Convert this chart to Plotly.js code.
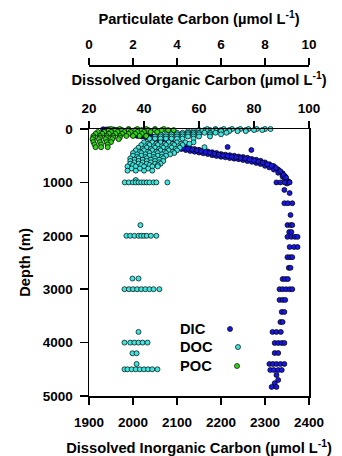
<!DOCTYPE html>
<html>
<head>
<meta charset="utf-8">
<script src="https://cdn.plot.ly/plotly-3.0.1.min.js"></script>
<style>html,body{margin:0;padding:0;background:#fff;}#chart{width:342px;height:456px;}</style>
</head>
<body>
<div id="chart"></div>
<script>
// ---------------- DATA ----------------
// DIC (umol/L) vs depth (m)
const DIC_SURFACE_VALUE = [1932,1938,1944,1950,1956,1962,1967,1940,1972];
const DIC_SURFACE_DEPTH = [5,10,5,15,10,20,25,30,35];

const DIC_BAND_VALUE   = [2000,2010,2020,2030,2040,2050,2060,2070,2080,2090,2100,2110,2120,2130,2140,2150,2160,2170,2180,2190,2200,2210,2220,2230,2240,2250,2260,2270,2280,2290,2300,2310,2320,2330,2340,2345,2350];
const DIC_BAND_DEPTH_A = [85,95,105,120,130,145,170,200,230,260,315,330,345,360,375,390,405,420,435,450,470,480,490,500,515,525,540,560,575,595,625,660,695,760,830,880,960];
const DIC_BAND_DEPTH_B = [120,130,140,155,170,185,210,240,270,300,355,375,395,410,425,440,455,470,490,505,520,530,545,555,565,580,600,615,635,655,690,720,760,820,890,940,1020];
const DIC_BAND_MID_VALUE = [2005,2015,2025,2035,2045,2055,2065,2075,2085,2095,2105,2115,2125,2135,2145,2155,2165,2175,2185,2195,2205,2215,2225,2235,2245,2255,2265,2275,2285,2295,2305,2315,2325,2335,2342,2348,2355];
const DIC_BAND_MID_DEPTH = [105,115,125,140,150,165,195,225,255,290,340,355,370,385,400,415,430,445,465,480,495,505,520,530,545,555,570,590,610,630,660,690,730,790,860,910,990];

const DIC_OUTLIER_VALUE = [2215,2269];
const DIC_OUTLIER_DEPTH = [337,393];

const DIC_DEEP_DEPTHS = [1000,1140,1200,1390,1610,1800,1930,2020,2210,2400,2600,2810,3000,3200,3425,3615,3800,4007,4195,4400,4513,4607,4700,4760,4830];
const DIC_DEEP_VALUES = [
  [2326,2335,2345,2356],[2344],[2356],[2344,2352,2362],[2358],[2351,2358,2362],[2355,2360],
  [2351,2360,2368,2374],[2356,2366,2374],[2351,2357,2362],[2354,2358],[2340,2346,2352],
  [2333,2340,2348,2356,2362],[2333,2340,2346],[2338,2344],[2335,2340],[2317,2326,2336],
  [2322,2330,2338,2344],[2322,2330],[2310,2318,2326,2335,2344],[2312,2320,2330,2338],
  [2326],[2330],[2322],[2315,2326]
];

// DOC (umol/L) rows by depth (m)
const DOC_DEPTHS = [0,20,40,70,100,140,180,250,275,300,325,340,350,375,400,425,450,475,500,525,550,575,600,625,650,675,700,740,780,955,1000,1800,2000,2800,3000,3800,4000,4200,4400,4500];
const DOC_VALUES = [
  [63,66,69,72,75,78,81,84,86],
  [60,62,64,66,68,71,74,77,80,83],
  [56,58,61,63,65,68,71,74,77],
  [50,52,54,56,58,60,62,64,66,70],
  [46,48,50,52,54,56,58,60,64,68],
  [44,46,48,50,52,54,56,58,60,64],
  [42,44,46,48,50,52,54,58],
  [40,43,46,49,52,55,58],
  [41.5,44.5,47.5,50.5,53.5,56.5],
  [39,42,45,48,51,54],
  [40.5,43.5,46.5,49.5,52.5],
  [62],
  [38,41,44,47,50,53],
  [39.5,42.5,45.5,48.5,51.5],
  [37,40,43,46,49,52],
  [38.5,41.5,44.5,47.5,50.5],
  [36,39,42,45,48,51],
  [37.5,40.5,43.5,46.5,49.5],
  [36,39,42,45,48],
  [37.5,40.5,43.5,46.5],
  [35,38,41,44,47],
  [36.5,39.5,42.5,45.5],
  [35,38,41,44,47],
  [36.5,39.5,42.5,45.5],
  [35,38,41,44,46],
  [36,39,42,45],
  [34,37,40,43,45],
  [35.5,38.5,41.5],
  [34,37,40,43],
  [37],
  [33,34.5,36,37,38,39,40,41,42,43.5,44.5,48.5],
  [38.7],
  [33.6,35,36.5,38,39,40,41,42.5,44.5],
  [35.8,38],
  [32.9,34.5,36,37.5,39,40.5,42,43.5,45.6],
  [38],
  [32.9,35,36.5,38,39.5,41.3],
  [35.8,37.3],
  [37.3],
  [32.9,34,35.5,37,38.5,40,41.5,43,44.9]
];

// POC (umol/L) rows by depth (m)
const POC_DEPTHS = [0,20,55,90,130,160,190,245,290,340];
const POC_VALUES = [
  [1.0,1.4,1.8,2.2,2.6,3.0,3.4],
  [0.9,1.2,1.5,1.8,2.1,2.4,2.7,3.0,3.3,3.6,3.85],
  [0.4,0.7,1.0,1.3,1.6,1.9,2.2,2.5,2.8,3.1],
  [0.3,0.6,0.9,1.2,1.5,1.8,2.1,2.4],
  [0.2,0.5,0.8,1.1,1.4,1.7,2.0,2.3,2.6],
  [0.2,0.5,0.8,1.1,1.4],
  [0.16,0.45,0.75,1.05,1.35],
  [0.2,0.5,0.8,1.0],
  [0.25,0.55,0.85],
  [0.3,0.55,0.85]
];

const SERIES_NAMES = ['DIC','DOC','POC'];
const DIC_TICKS = [1900,2000,2100,2200,2300,2400];
const DOC_TICKS = [20,40,60,80,100];
const POC_TICKS = [0,2,4,6,8,10];
const DEPTH_TICKS = [0,1000,2000,3000,4000,5000];

// ---------------- STYLE ----------------
const FONT = 'Liberation Sans, Arial, Helvetica, sans-serif';
const COLORS = {DIC:'#1818e0', DOC:'#3fe6e0', POC:'#30d818'};
const MS = 5;

function flattenRows(depths, rows){
  const x=[], y=[];
  rows.forEach((r,i)=>r.forEach(v=>{x.push(v); y.push(depths[i]);}));
  return {x, y};
}

const dicX = [].concat(DIC_SURFACE_VALUE, DIC_BAND_VALUE, DIC_BAND_VALUE, DIC_BAND_MID_VALUE, DIC_OUTLIER_VALUE);
const dicY = [].concat(DIC_SURFACE_DEPTH, DIC_BAND_DEPTH_A, DIC_BAND_DEPTH_B, DIC_BAND_MID_DEPTH, DIC_OUTLIER_DEPTH);
const deep = flattenRows(DIC_DEEP_DEPTHS, DIC_DEEP_VALUES);
dicX.push(...deep.x); dicY.push(...deep.y);
const doc = flattenRows(DOC_DEPTHS, DOC_VALUES);
const poc = flattenRows(POC_DEPTHS, POC_VALUES);

function mk(color){ return {size:MS, color:color, line:{color:'#000', width:0.7}}; }

const traces = [
  {x:dicX, y:dicY, xaxis:'x', yaxis:'y', type:'scatter', mode:'markers', name:'DIC', marker:mk(COLORS.DIC), cliponaxis:false},
  {x:doc.x, y:doc.y, xaxis:'x2', yaxis:'y', type:'scatter', mode:'markers', name:'DOC', marker:mk(COLORS.DOC), cliponaxis:false},
  {x:poc.x, y:poc.y, xaxis:'x3', yaxis:'y', type:'scatter', mode:'markers', name:'POC', marker:mk(COLORS.POC), cliponaxis:false}
];

const TF = {family:FONT, size:13.5, color:'#000', weight:'bold'};
const TITLEF = {family:FONT, size:14.7, color:'#000', weight:'bold'};
const axCommon = {showgrid:false, zeroline:false, showline:true, linecolor:'#000', linewidth:1.5,
  ticks:'outside', ticklen:7, tickwidth:1.5, tickcolor:'#000', tickfont:TF, fixedrange:true};

const PH = 396; // paper height in px (456 - b)
const layout = {
  width:342, height:456,
  margin:{l:89, r:33, t:0, b:60},
  paper_bgcolor:'#fff', plot_bgcolor:'#fff',
  showlegend:false,
  font:{family:FONT, size:13.5, color:'#000', weight:'bold'},
  xaxis:Object.assign({}, axCommon, {range:[1900,2400], tickvals:DIC_TICKS, side:'bottom', anchor:'y', mirror:true,
    ticklabelstandoff:6,
    title:{text:'Dissolved Inorganic Carbon (µmol L<sup>-1</sup>)', font:TITLEF, standoff:16}}),
  xaxis2:Object.assign({}, axCommon, {range:[20,100], tickvals:DOC_TICKS, side:'top', overlaying:'x', anchor:'y',
    ticklabelstandoff:2,
    title:{text:'Dissolved Organic Carbon (µmol L<sup>-1</sup>)', font:TITLEF, standoff:12}}),
  xaxis3:Object.assign({}, axCommon, {range:[0,10], tickvals:POC_TICKS, side:'top', overlaying:'x', anchor:'free',
    position:(PH-65)/PH, ticklabelstandoff:4,
    title:{text:'Particulate Carbon (µmol L<sup>-1</sup>)', font:TITLEF, standoff:7}}),
  yaxis:Object.assign({}, axCommon, {range:[5000,0], tickvals:DEPTH_TICKS, domain:[0,(PH-129)/PH], mirror:true,
    ticklen:8, ticklabelstandoff:4,
    title:{text:'Depth (m)', font:TITLEF, standoff:8.5}}),
  annotations: SERIES_NAMES.map((n,i)=>({
    text:n, xref:'paper', yref:'paper', x:(178-89)/220, y:(PH-[329,347,366][i])/PH,
    xanchor:'left', yanchor:'middle', showarrow:false, font:TITLEF
  })),
  shapes: SERIES_NAMES.map((n,i)=>({
    type:'circle', xref:'paper', yref:'paper', xsizemode:'pixel', ysizemode:'pixel',
    xanchor:([230,238,237][i]-89)/220, yanchor:(PH-[329,347,366][i])/PH,
    x0:-2.5, x1:2.5, y0:-2.5, y1:2.5,
    fillcolor:COLORS[n], line:{color:'#000', width:0.7}, layer:'above'
  }))
};

Plotly.newPlot('chart', traces, layout, {staticPlot:true, displayModeBar:false});
</script>
</body>
</html>
